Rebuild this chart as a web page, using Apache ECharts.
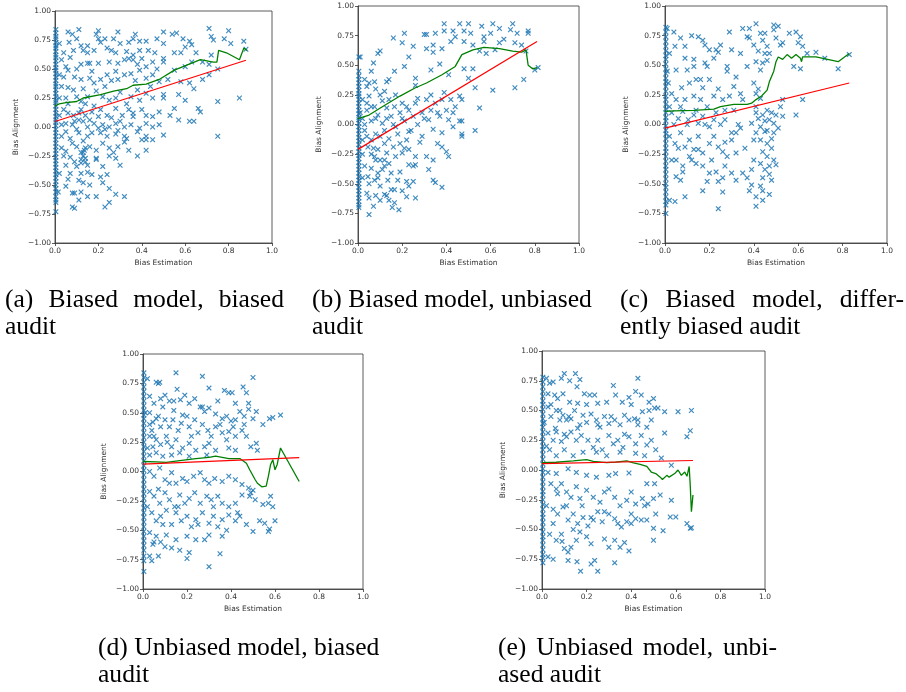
<!DOCTYPE html>
<html>
<head>
<meta charset="utf-8">
<script src="https://cdn.jsdelivr.net/npm/echarts@6/dist/echarts.min.js"></script>
<style>
  html, body { margin: 0; padding: 0; background: #fff; }
  #main { width: 906px; height: 692px; }
</style>
</head>
<body>
<div id="main"></div>
<script>
// ---- data ----
// (a) biased model, biased audit
const aZero = [0.84,0.81,0.78,0.76,0.73,0.7,0.68,0.65,0.62,0.6,0.57,0.54,0.51,0.49,0.46,0.43,0.4,0.37,0.35,0.32,0.29,0.26,0.23,0.21,0.18,0.15,0.12,0.09,0.06,0.04,0.01,-0.02,-0.05,-0.08,-0.11,-0.14,-0.17,-0.2,-0.23,-0.26,-0.29,-0.32,-0.35,-0.38,-0.41,-0.44,-0.47,-0.5,-0.53,-0.56,-0.6,-0.63,-0.65,-0.73];
const aPoints = [
  [0.06,0.82],[0.08,0.80],[0.11,0.84],[0.2,0.83],[0.19,0.80],[0.29,0.82],[0.37,0.80],[0.5,0.82],[0.54,0.80],[0.56,0.81],[0.71,0.85],[0.8,0.83],[0.72,0.78],[0.73,0.75],[0.78,0.76],[0.81,0.72],[0.87,0.74],[0.88,0.67],
  [0.02,0.72],[0.065,0.73],[0.1,0.76],[0.12,0.7],[0.15,0.7],[0.2,0.76],[0.21,0.73],[0.23,0.76],[0.27,0.76],[0.3,0.72],[0.34,0.73],[0.36,0.76],[0.39,0.74],[0.42,0.74],[0.47,0.76],[0.5,0.72],[0.59,0.76],[0.62,0.74],[0.63,0.71],[0.6,0.69],
  [0.04,0.64],[0.085,0.66],[0.13,0.66],[0.15,0.64],[0.18,0.66],[0.24,0.68],[0.26,0.66],[0.28,0.64],[0.33,0.65],[0.36,0.62],[0.39,0.66],[0.43,0.66],[0.46,0.64],[0.55,0.64],[0.58,0.64],[0.65,0.64],[0.72,0.62],[0.68,0.56],
  [0.05,0.52],[0.06,0.49],[0.12,0.54],[0.15,0.55],[0.16,0.55],[0.2,0.55],[0.25,0.56],[0.29,0.55],[0.32,0.58],[0.34,0.59],[0.36,0.58],[0.38,0.54],[0.4,0.59],[0.42,0.52],[0.45,0.56],[0.5,0.59],[0.5,0.56],[0.55,0.49],[0.6,0.52],[0.63,0.56],[0.71,0.45],[0.75,0.5],[0.71,0.54],
  [0.04,0.43],[0.09,0.43],[0.12,0.41],[0.17,0.48],[0.21,0.41],[0.24,0.45],[0.28,0.48],[0.29,0.41],[0.32,0.45],[0.35,0.46],[0.39,0.49],[0.42,0.42],[0.45,0.45],[0.48,0.39],[0.52,0.41],[0.58,0.39],[0.62,0.38],[0.64,0.33],[0.68,0.41],
  [0.03,0.35],[0.06,0.34],[0.085,0.32],[0.02,0.25],[0.05,0.25],[0.1,0.26],[0.12,0.22],[0.15,0.26],[0.19,0.31],[0.22,0.26],[0.25,0.23],[0.28,0.25],[0.33,0.2],[0.35,0.26],[0.38,0.32],[0.39,0.23],[0.42,0.29],[0.45,0.25],[0.5,0.28],[0.5,0.25],[0.57,0.28],[0.6,0.23],[0.75,0.22],[0.85,0.25],
  [0.04,0.15],[0.06,0.12],[0.085,0.1],[0.12,0.15],[0.14,0.1],[0.17,0.13],[0.21,0.15],[0.24,0.1],[0.28,0.16],[0.31,0.1],[0.34,0.15],[0.36,0.09],[0.4,0.15],[0.42,0.1],[0.45,0.09],[0.48,0.13],[0.53,0.1],[0.55,0.16],[0.57,0.06],[0.62,0.05],[0.64,0.05],[0.66,0.16],[0.67,0.13],
  [0.03,0.02],[0.05,0.03],[0.08,0.02],[0.11,0.06],[0.13,0.05],[0.15,0.0],[0.18,0.03],[0.2,-0.01],[0.22,0.02],[0.25,0.0],[0.28,0.03],[0.29,-0.03],[0.32,0.0],[0.35,0.02],[0.39,-0.01],[0.42,0.03],[0.45,0.0],[0.48,0.02],[0.5,-0.07],[0.05,-0.04],[0.11,-0.05],[0.15,-0.08],[0.21,-0.05],[0.24,-0.08],[0.28,-0.06],[0.32,-0.08],[0.38,-0.04],[0.42,-0.08],[0.45,-0.11],[0.75,-0.08],
  [0.03,-0.18],[0.05,-0.21],[0.08,-0.14],[0.1,-0.17],[0.12,-0.22],[0.13,-0.25],[0.14,-0.18],[0.12,-0.31],[0.16,-0.17],[0.19,-0.2],[0.22,-0.14],[0.25,-0.18],[0.27,-0.22],[0.29,-0.17],[0.32,-0.13],[0.34,-0.2],[0.38,-0.25],[0.4,-0.11],[0.42,-0.2],[0.42,-0.11],[0.07,-0.26],[0.19,-0.27],[0.25,-0.25],[0.28,-0.27],[0.13,-0.22],[0.14,-0.27],
  [0.05,-0.33],[0.07,-0.4],[0.12,-0.4],[0.1,-0.34],[0.15,-0.33],[0.17,-0.41],[0.19,-0.28],[0.22,-0.34],[0.21,-0.43],[0.24,-0.41],[0.3,-0.33],[0.15,-0.39],
  [0.015,-0.56],[0.05,-0.51],[0.08,-0.57],[0.09,-0.57],[0.12,-0.56],[0.13,-0.48],[0.15,-0.6],[0.11,-0.63],[0.19,-0.6],[0.22,-0.48],[0.25,-0.53],[0.25,-0.65],[0.23,-0.69],[0.28,-0.58],[0.32,-0.6],[0.08,-0.69],[0.09,-0.7],
  [0.02,0.1],[0.03,-0.08],[0.06,0.2],[0.07,-0.1],[0.09,0.05],[0.1,-0.02],[0.11,0.12],[0.13,-0.12],[0.14,0.2],[0.16,0.06],[0.17,-0.05],[0.18,0.18],[0.2,0.09],[0.23,-0.02],[0.26,0.08],[0.3,0.05],[0.33,-0.1],[0.36,0.12],
  [0.02,0.45],[0.03,0.58],[0.07,0.6],[0.1,0.5],[0.13,0.33],[0.16,0.42],[0.18,0.38],[0.23,0.35],[0.26,0.4],[0.3,0.3],[0.37,0.4],[0.44,0.35],[0.47,0.5],
  [0.02,-0.4],[0.04,-0.25],[0.06,-0.45],[0.09,-0.3],[0.11,-0.46],[0.14,-0.3],[0.16,-0.5],[0.12,-0.28],[0.135,-0.2]
];
const aGreen = [[0,0.18],[0.02,0.2],[0.05,0.21],[0.1,0.22],[0.13,0.25],[0.21,0.28],[0.27,0.31],[0.33,0.33],[0.36,0.36],[0.42,0.37],[0.48,0.41],[0.55,0.49],[0.63,0.55],[0.67,0.58],[0.7,0.57],[0.73,0.56],[0.746,0.56],[0.754,0.66],[0.79,0.64],[0.85,0.58],[0.87,0.68],[0.885,0.66]];
const aRed = [[0,0.047],[0.88,0.575]];

// (b) biased model, unbiased audit
const bZero = [0.57,0.45,0.41,0.38,0.35,0.32,0.29,0.26,0.24,0.21,0.18,0.15,0.12,0.09,0.06,0.04,0.01,-0.02,-0.05,-0.08,-0.11,-0.14,-0.17,-0.2,-0.23,-0.26,-0.29,-0.32,-0.35,-0.38,-0.41,-0.44,-0.47,-0.5,-0.53,-0.56,-0.59,-0.62,-0.65,-0.68,-0.7];
const bPoints = [
  [0.01,0.57],[0.03,0.38],[0.04,0.32],[0.06,0.45],[0.075,0.36],[0.09,0.6],[0.1,0.62],[0.07,0.52],[0.13,0.36],[0.14,0.38],[0.16,0.73],[0.165,0.45],[0.21,0.77],[0.2,0.69],[0.21,0.49],[0.23,0.57],[0.25,0.66],[0.26,0.39],[0.26,0.33],
  [0.3,0.76],[0.31,0.76],[0.31,0.64],[0.34,0.67],[0.35,0.77],[0.34,0.61],[0.33,0.46],[0.37,0.51],[0.39,0.85],[0.39,0.79],[0.38,0.64],[0.41,0.42],[0.42,0.7],[0.43,0.79],[0.44,0.74],[0.46,0.85],[0.48,0.79],[0.48,0.7],[0.48,0.47],
  [0.5,0.85],[0.51,0.77],[0.52,0.67],[0.56,0.83],[0.57,0.74],[0.57,0.7],[0.6,0.77],[0.61,0.85],[0.64,0.81],[0.64,0.69],[0.66,0.72],[0.69,0.8],[0.7,0.85],[0.71,0.69],[0.72,0.77],[0.77,0.79],[0.77,0.77],[0.74,0.67],[0.76,0.62],
  [0.8,0.46],[0.815,0.48],[0.75,0.38],[0.71,0.31],[0.61,0.29],[0.55,0.14],[0.53,0.31],[0.53,-0.05],[0.5,0.39],[0.52,0.47],[0.46,0.24],[0.47,0.21],[0.47,0.03],[0.47,-0.1],[0.43,0.1],[0.44,0.15],[0.58,0.6],[0.62,0.63],[0.55,0.62],
  [0.02,0.21],[0.04,0.12],[0.05,0.24],[0.06,0.03],[0.075,0.15],[0.09,0.08],[0.1,0.25],[0.11,0.01],[0.13,0.14],[0.14,0.21],[0.15,0.07],[0.165,0.15],[0.17,-0.02],[0.19,0.1],[0.2,0.18],[0.21,0.03],[0.23,0.12],[0.23,-0.06],[0.25,0.07],[0.26,0.18],
  [0.27,0.0],[0.29,0.1],[0.29,-0.1],[0.31,0.21],[0.32,0.04],[0.33,0.12],[0.34,-0.04],[0.35,0.18],[0.37,0.07],[0.38,-0.07],[0.38,0.21],[0.4,0.12],[0.41,0.04],[0.42,0.21],[0.46,0.03],[0.47,-0.08],
  [0.36,-0.16],[0.38,-0.19],[0.4,-0.23],[0.41,-0.27],[0.31,-0.27],[0.34,-0.3],[0.32,-0.38],[0.34,-0.47],[0.35,-0.49],[0.38,-0.53],[0.26,-0.27],[0.25,-0.35],[0.26,-0.34],
  [0.02,-0.13],[0.045,-0.19],[0.06,-0.13],[0.075,-0.27],[0.09,-0.21],[0.1,-0.3],[0.12,-0.16],[0.13,-0.24],[0.14,-0.33],[0.16,-0.19],[0.17,-0.27],[0.19,-0.16],[0.2,-0.24],[0.22,-0.13],[0.23,-0.34],[0.23,-0.21],[0.03,-0.05],[0.08,-0.08],[0.12,-0.05],[0.02,0.05],[0.08,0.3],[0.12,0.28],
  [0.03,-0.35],[0.045,-0.44],[0.06,-0.37],[0.075,-0.47],[0.09,-0.41],[0.1,-0.52],[0.12,-0.35],[0.135,-0.47],[0.15,-0.41],[0.165,-0.55],[0.18,-0.47],[0.2,-0.56],[0.22,-0.48],[0.23,-0.52],[0.25,-0.48],[0.26,-0.62],[0.22,-0.61],
  [0.04,-0.58],[0.05,-0.62],[0.07,-0.69],[0.05,-0.76],[0.1,-0.64],[0.12,-0.59],[0.14,-0.64],[0.155,-0.7],[0.185,-0.72],[0.165,-0.66],[0.08,-0.3],[0.06,-0.25],
  [0.01,0.1],[0.02,-0.25],[0.03,0.0],[0.04,-0.1],[0.05,-0.5],[0.06,0.15],[0.07,-0.2],[0.08,0.05],[0.09,-0.45],[0.1,-0.1],[0.11,0.2],[0.12,-0.3],[0.13,0.05],[0.14,-0.12],[0.15,-0.55],[0.16,0.0],[0.17,0.25],[0.18,-0.08],
  [0.19,-0.4],[0.2,0.05],[0.21,-0.2],[0.22,0.15],[0.24,-0.05],[0.27,0.22],[0.28,-0.15],[0.3,0.05],[0.33,0.25],[0.36,0.1],[0.39,0.27],[0.43,-0.02],[0.05,0.35],[0.08,-0.6],[0.11,-0.38],[0.13,-0.6],[0.02,-0.45],[0.04,0.18]
];
const bGreen = [[0,0.05],[0.05,0.08],[0.11,0.15],[0.19,0.24],[0.26,0.31],[0.31,0.35],[0.38,0.42],[0.44,0.49],[0.47,0.59],[0.52,0.63],[0.57,0.65],[0.64,0.64],[0.7,0.62],[0.74,0.61],[0.76,0.63],[0.77,0.5],[0.79,0.47],[0.81,0.48]];
const bRed = [[0,-0.21],[0.81,0.7]];

// (c) biased model, differently biased audit
const cZero = [0.82,0.78,0.74,0.7,0.66,0.62,0.58,0.55,0.51,0.47,0.43,0.39,0.36,0.32,0.28,0.24,0.21,0.17,0.13,0.1,0.06,0.03,-0.01,-0.05,-0.08,-0.12,-0.16,-0.2,-0.23,-0.27,-0.31,-0.35,-0.38,-0.42,-0.46,-0.5,-0.53,-0.57,-0.61,-0.65,-0.68,-0.75];
const cPoints = [
  [0.01,0.81],[0.04,0.78],[0.02,0.6],[0.07,0.73],[0.045,0.66],[0.09,0.66],[0.12,0.75],[0.15,0.74],[0.09,0.56],[0.13,0.49],[0.1,0.46],[0.05,0.46],[0.17,0.71],[0.18,0.67],[0.2,0.63],[0.23,0.63],[0.24,0.61],[0.25,0.67],[0.22,0.56],[0.19,0.49],
  [0.16,0.38],[0.14,0.38],[0.2,0.38],[0.18,0.52],[0.29,0.78],[0.3,0.63],[0.28,0.49],[0.28,0.45],[0.34,0.6],[0.35,0.81],[0.37,0.74],[0.38,0.81],[0.41,0.85],[0.38,0.73],[0.4,0.67],[0.43,0.77],[0.44,0.71],[0.45,0.77],[0.46,0.66],[0.47,0.6],
  [0.49,0.84],[0.49,0.8],[0.51,0.83],[0.5,0.73],[0.52,0.67],[0.53,0.69],[0.56,0.77],[0.59,0.78],[0.6,0.69],[0.61,0.74],[0.62,0.66],[0.64,0.6],[0.68,0.61],[0.61,0.47],[0.58,0.49],[0.78,0.47],[0.83,0.59],[0.72,0.56],
  [0.41,0.53],[0.43,0.46],[0.44,0.52],[0.46,0.54],[0.37,0.49],[0.32,0.4],[0.31,0.32],[0.34,0.26],[0.35,0.21],[0.4,0.35],[0.41,0.26],[0.43,0.22],[0.41,0.15],[0.41,0.1],[0.42,0.05],[0.44,0.08],[0.46,0.12],[0.47,0.04],[0.49,0.01],[0.5,0.08],
  [0.51,-0.03],[0.53,0.21],[0.52,0.15],[0.53,0.07],[0.59,0.08],[0.62,0.21],[0.39,0.01],[0.43,-0.02],[0.45,-0.06],[0.41,-0.07],[0.4,-0.13],[0.43,-0.13],[0.46,-0.16],[0.48,-0.12],[0.49,-0.07],[0.44,-0.23],[0.46,-0.27],[0.43,-0.33],
  [0.47,-0.35],[0.5,-0.34],[0.45,-0.38],[0.47,-0.42],[0.48,-0.47],[0.43,-0.52],[0.44,-0.56],[0.41,-0.61],[0.44,-0.64],[0.47,-0.59],[0.41,-0.69],[0.39,-0.51],[0.38,-0.56],[0.39,-0.38],[0.37,-0.45],[0.35,-0.41],[0.32,-0.47],[0.45,0.03],[0.48,-0.2],
  [0.015,0.35],[0.03,0.26],[0.05,0.21],[0.075,0.31],[0.09,0.21],[0.11,0.35],[0.13,0.24],[0.14,0.12],[0.16,0.21],[0.17,0.31],[0.19,0.15],[0.22,0.24],[0.23,0.1],[0.26,0.21],[0.27,0.12],[0.29,0.24],[0.31,0.12],
  [0.03,0.1],[0.06,0.05],[0.08,0.11],[0.105,0.04],[0.13,0.08],[0.15,0.01],[0.17,0.07],[0.2,-0.02],[0.22,0.04],[0.25,0.0],[0.27,0.04],[0.3,-0.07],[0.32,-0.07],[0.34,-0.03],
  [0.02,-0.1],[0.045,-0.16],[0.07,-0.07],[0.09,-0.19],[0.11,-0.13],[0.13,-0.21],[0.15,-0.21],[0.17,-0.24],[0.2,-0.16],[0.22,-0.1],[0.24,-0.19],[0.26,-0.23],[0.28,-0.27],[0.3,-0.13],[0.32,-0.24],
  [0.05,-0.3],[0.08,-0.35],[0.11,-0.27],[0.14,-0.33],[0.17,-0.35],[0.2,-0.41],[0.19,-0.48],[0.23,-0.4],[0.24,-0.48],[0.26,-0.45],[0.27,-0.35],[0.3,-0.41],[0.07,-0.47],[0.05,-0.44],[0.045,-0.65],[0.02,-0.64],[0.09,-0.61],[0.17,-0.56],[0.26,-0.57],[0.24,-0.71],
  [0.01,0.45],[0.02,0.15],[0.03,-0.3],[0.04,0.0],[0.06,-0.2],[0.07,0.15],[0.08,-0.4],[0.1,0.0],[0.12,-0.3],[0.13,0.55],[0.15,-0.1],[0.18,0.0],[0.21,-0.3],[0.24,0.3],[0.27,-0.15],[0.33,0.0],[0.36,-0.2],[0.4,-0.3],[0.42,0.3],[0.44,-0.45],[0.46,-0.05],[0.48,0.1],[0.49,-0.3],[0.45,0.6],[0.42,0.62]
];
const cGreen = [[0,0.11],[0.04,0.115],[0.13,0.12],[0.22,0.13],[0.25,0.15],[0.31,0.17],[0.37,0.17],[0.39,0.18],[0.41,0.21],[0.435,0.24],[0.46,0.29],[0.47,0.36],[0.49,0.45],[0.5,0.53],[0.51,0.57],[0.53,0.55],[0.55,0.59],[0.57,0.56],[0.59,0.59],[0.61,0.56],[0.615,0.53],[0.62,0.57],[0.68,0.57],[0.78,0.53],[0.83,0.6]];
const cRed = [[0,-0.03],[0.83,0.35]];

// (d) unbiased model, biased audit
const dZero = [0.84,0.8,0.76,0.72,0.68,0.64,0.6,0.56,0.52,0.48,0.45,0.41,0.37,0.33,0.29,0.25,0.21,0.17,0.13,0.09,0.05,0.01,-0.03,-0.07,-0.11,-0.15,-0.19,-0.23,-0.27,-0.31,-0.35,-0.39,-0.43,-0.47,-0.51,-0.55,-0.59,-0.63,-0.67,-0.72,-0.76,-0.85];
const dPoints = [
  [0.02,0.79],[0.06,0.76],[0.07,0.75],[0.076,0.76],[0.15,0.84],[0.155,0.7],[0.27,0.81],[0.3,0.71],[0.5,0.8],[0.455,0.72],[0.39,0.67],[0.405,0.67],[0.37,0.69],[0.47,0.67],[0.34,0.6],[0.42,0.58],[0.48,0.58],
  [0.03,0.64],[0.05,0.58],[0.08,0.62],[0.1,0.65],[0.12,0.6],[0.14,0.52],[0.17,0.61],[0.19,0.65],[0.21,0.58],[0.235,0.62],[0.26,0.55],[0.28,0.51],[0.3,0.54],[0.33,0.49],[0.36,0.45],[0.38,0.47],[0.4,0.43],[0.42,0.44],[0.44,0.51],[0.46,0.47],[0.48,0.53],[0.5,0.45],[0.515,0.51],[0.545,0.4],[0.575,0.45],[0.59,0.46],[0.625,0.48],
  [0.03,0.5],[0.045,0.42],[0.07,0.47],[0.08,0.38],[0.1,0.44],[0.12,0.38],[0.136,0.44],[0.16,0.35],[0.174,0.41],[0.2,0.47],[0.21,0.38],[0.235,0.44],[0.25,0.33],[0.27,0.4],[0.295,0.35],[0.31,0.3],[0.33,0.38],[0.36,0.33],[0.38,0.27],[0.39,0.34],[0.42,0.3],[0.45,0.35],[0.47,0.3],[0.49,0.21],[0.515,0.24],[0.52,0.18],
  [0.03,0.3],[0.045,0.21],[0.06,0.27],[0.08,0.23],[0.106,0.3],[0.13,0.21],[0.15,0.27],[0.18,0.2],[0.21,0.24],[0.24,0.18],[0.28,0.21],[0.3,0.24],[0.33,0.18],[0.39,0.2],[0.42,0.18],[0.03,0.14],[0.06,0.16],[0.09,0.13],[0.13,0.14],[0.167,0.16],[0.21,0.13],[0.29,0.14],
  [0.03,0.0],[0.05,-0.04],[0.076,0.03],[0.1,-0.07],[0.13,-0.01],[0.15,-0.1],[0.18,-0.06],[0.2,-0.085],[0.23,-0.04],[0.26,-0.01],[0.28,-0.07],[0.3,-0.1],[0.326,-0.06],[0.36,-0.085],[0.39,-0.04],[0.42,-0.07],[0.45,-0.11],[0.48,-0.14],[0.5,-0.16],[0.49,-0.18],[0.58,-0.21],
  [0.03,-0.17],[0.05,-0.21],[0.076,-0.27],[0.1,-0.18],[0.12,-0.24],[0.144,-0.3],[0.167,-0.2],[0.19,-0.27],[0.21,-0.23],[0.235,-0.18],[0.26,-0.27],[0.29,-0.21],[0.31,-0.24],[0.34,-0.21],[0.36,-0.27],[0.39,-0.3],[0.42,-0.27],[0.45,-0.2],[0.485,-0.21],[0.51,-0.24],[0.545,-0.28],[0.57,-0.27],[0.59,-0.3],
  [0.04,-0.35],[0.06,-0.42],[0.08,-0.38],[0.106,-0.33],[0.13,-0.45],[0.15,-0.35],[0.174,-0.42],[0.2,-0.38],[0.22,-0.47],[0.24,-0.41],[0.27,-0.35],[0.3,-0.44],[0.32,-0.38],[0.34,-0.47],[0.36,-0.41],[0.39,-0.37],[0.42,-0.42],[0.44,-0.38],[0.47,-0.45],[0.5,-0.51],[0.53,-0.42],[0.553,-0.44],[0.6,-0.42],[0.575,-0.49],[0.57,-0.51],
  [0.03,-0.52],[0.06,-0.55],[0.08,-0.6],[0.106,-0.54],[0.13,-0.65],[0.15,-0.58],[0.167,-0.67],[0.2,-0.74],[0.21,-0.69],[0.24,-0.58],[0.28,-0.58],[0.3,-0.54],[0.35,-0.7],[0.3,-0.81],[0.36,-0.55],[0.03,-0.72],[0.04,-0.76],[0.07,-0.72],[0.1,-0.64],[0.045,-0.62],
  [0.01,0.5],[0.02,0.2],[0.02,-0.3],[0.04,0.35],[0.05,-0.6],[0.06,0.45],[0.07,-0.15],[0.09,0.55],[0.09,-0.45],[0.11,0.25],[0.12,-0.1],[0.14,0.6],[0.16,-0.3],[0.18,0.48],[0.2,-0.55],[0.22,0.3],[0.25,-0.45],[0.27,0.55],[0.32,-0.3],[0.35,0.4],[0.38,-0.5],[0.41,0.38],[0.43,-0.35],[0.46,0.4],[0.03,0.4],[0.05,0.3]
];
const dGreen = [[0,0.085],[0.06,0.082],[0.106,0.077],[0.167,0.093],[0.24,0.11],[0.3,0.12],[0.33,0.13],[0.36,0.12],[0.39,0.11],[0.44,0.11],[0.47,0.07],[0.485,0.015],[0.51,-0.07],[0.52,-0.1],[0.54,-0.13],[0.545,-0.14],[0.56,-0.125],[0.57,-0.04],[0.58,0.06],[0.59,0.1],[0.6,0.015],[0.61,0.06],[0.625,0.2],[0.71,-0.085]];
const dRed = [[0,0.062],[0.71,0.118]];

// (e) unbiased model, unbiased audit
const eZero = [0.78,0.74,0.7,0.66,0.62,0.58,0.55,0.51,0.47,0.43,0.39,0.36,0.32,0.28,0.24,0.2,0.17,0.13,0.09,0.05,0.01,-0.02,-0.06,-0.1,-0.14,-0.18,-0.21,-0.25,-0.29,-0.33,-0.37,-0.4,-0.44,-0.48,-0.52,-0.56,-0.59,-0.63,-0.67,-0.71,-0.74,-0.78];
const ePoints = [
  [0.02,0.77],[0.034,0.73],[0.05,0.74],[0.087,0.77],[0.1,0.81],[0.124,0.75],[0.15,0.81],[0.17,0.76],[0.157,0.7],[0.32,0.71],[0.43,0.77],[0.42,0.66],[0.027,0.64],[0.057,0.63],[0.07,0.6],[0.094,0.64],[0.124,0.57],[0.16,0.56],[0.19,0.64],[0.214,0.63],[0.236,0.63],
  [0.25,0.56],[0.29,0.57],[0.33,0.63],[0.36,0.57],[0.39,0.61],[0.4,0.55],[0.445,0.63],[0.48,0.57],[0.5,0.6],[0.52,0.52],[0.55,0.49],[0.61,0.49],[0.67,0.5],[0.665,0.33],[0.65,0.28],[0.55,0.31],
  [0.027,0.53],[0.04,0.45],[0.064,0.5],[0.08,0.42],[0.094,0.46],[0.11,0.42],[0.13,0.43],[0.146,0.5],[0.17,0.38],[0.184,0.46],[0.2,0.4],[0.22,0.47],[0.244,0.42],[0.26,0.36],[0.28,0.45],[0.3,0.39],[0.326,0.42],[0.35,0.38],[0.37,0.46],[0.39,0.42],[0.415,0.43],[0.43,0.42],[0.45,0.49],[0.47,0.36],[0.49,0.42],[0.505,0.52],
  [0.027,0.31],[0.05,0.25],[0.064,0.32],[0.087,0.24],[0.11,0.28],[0.13,0.32],[0.154,0.25],[0.176,0.29],[0.206,0.25],[0.23,0.19],[0.25,0.25],[0.27,0.17],[0.3,0.29],[0.32,0.22],[0.34,0.25],[0.363,0.19],[0.39,0.28],[0.42,0.22],[0.445,0.29],[0.47,0.21],[0.49,0.25],[0.51,0.17],[0.535,0.1],[0.58,0.04],
  [0.034,0.17],[0.064,0.12],[0.1,0.17],[0.14,0.12],[0.184,0.15],[0.244,0.15],[0.29,0.12],[0.35,0.15],[0.42,0.14],[0.46,0.12],
  [0.027,-0.02],[0.064,-0.03],[0.117,0.01],[0.154,-0.02],[0.2,-0.045],[0.244,-0.06],[0.3,-0.045],[0.33,-0.03],[0.39,-0.025],[0.47,-0.115],[0.505,-0.115],
  [0.04,-0.115],[0.064,-0.16],[0.087,-0.115],[0.11,-0.185],[0.13,-0.23],[0.154,-0.14],[0.17,-0.24],[0.2,-0.17],[0.23,-0.23],[0.26,-0.27],[0.28,-0.185],[0.3,-0.16],[0.326,-0.23],[0.35,-0.3],[0.38,-0.255],[0.4,-0.185],[0.42,-0.285],[0.45,-0.24],[0.475,-0.285],[0.5,-0.24],[0.51,-0.37],[0.53,-0.21],[0.58,-0.255],
  [0.05,-0.33],[0.07,-0.37],[0.094,-0.31],[0.117,-0.42],[0.14,-0.37],[0.16,-0.45],[0.184,-0.4],[0.206,-0.47],[0.23,-0.42],[0.25,-0.35],[0.27,-0.435],[0.3,-0.37],[0.326,-0.41],[0.356,-0.48],[0.38,-0.435],[0.4,-0.37],[0.42,-0.41],[0.445,-0.42],[0.47,-0.42],[0.5,-0.49],[0.543,-0.51],[0.575,-0.395],[0.6,-0.395],[0.65,-0.45],[0.665,-0.49],[0.67,-0.485],
  [0.034,-0.54],[0.064,-0.59],[0.087,-0.54],[0.1,-0.66],[0.117,-0.69],[0.13,-0.65],[0.154,-0.59],[0.17,-0.52],[0.2,-0.56],[0.22,-0.62],[0.28,-0.58],[0.3,-0.65],[0.326,-0.59],[0.35,-0.65],[0.37,-0.61],[0.39,-0.68],[0.5,-0.59],
  [0.027,-0.73],[0.05,-0.75],[0.117,-0.76],[0.157,-0.77],[0.173,-0.85],[0.22,-0.79],[0.236,-0.76],[0.25,-0.85],[0.326,-0.78],
  [0.01,0.4],[0.02,0.2],[0.02,-0.3],[0.04,0.55],[0.05,-0.45],[0.06,0.35],[0.07,-0.2],[0.08,0.5],[0.09,-0.6],[0.1,0.3],[0.11,-0.3],[0.12,0.45],[0.14,-0.5],[0.16,0.35],[0.18,-0.3],[0.2,0.55],[0.22,-0.4],[0.25,0.38],[0.28,-0.35],[0.31,0.45],[0.34,-0.45],[0.37,0.3],[0.4,-0.45],[0.43,0.38],[0.46,-0.3],[0.48,0.5]
];
const eGreen = [[0,0.062],[0.064,0.065],[0.14,0.076],[0.2,0.087],[0.23,0.073],[0.29,0.062],[0.33,0.067],[0.38,0.076],[0.41,0.06],[0.44,0.048],[0.47,0.03],[0.49,-0.017],[0.51,-0.03],[0.53,-0.06],[0.54,-0.08],[0.56,-0.045],[0.57,-0.06],[0.595,-0.03],[0.61,0.0],[0.625,-0.045],[0.64,-0.017],[0.65,-0.053],[0.66,0.03],[0.665,-0.14],[0.67,-0.35],[0.677,-0.21]];
const eRed = [[0,0.053],[0.677,0.08]];

const zeroX = 0.004;   // the pile of points sitting on x = 0

// ---- layout ----
const panels = [
  { grid: { left: 55, top: 11, width: 217, height: 232 }, zero: aZero, pts: aPoints, green: aGreen, red: aRed },
  { grid: { left: 358, top: 6, width: 221, height: 237 }, zero: bZero, pts: bPoints, green: bGreen, red: bRed },
  { grid: { left: 665, top: 6, width: 222, height: 237 }, zero: cZero, pts: cPoints, green: cGreen, red: cRed },
  { grid: { left: 143, top: 354, width: 220, height: 235 }, zero: dZero, pts: dPoints, green: dGreen, red: dRed },
  { grid: { left: 542, top: 351, width: 223, height: 238 }, zero: eZero, pts: ePoints, green: eGreen, red: eRed }
];

const captions = [
  { words: ['(a)', 'Biased', 'model,', 'biased'], x: 5, x1: 284, y: 300 },
  { words: ['audit'], x: 5, y: 327 },
  { words: ['(b)', 'Biased', 'model,', 'unbiased'], x: 312, y: 300 },
  { words: ['audit'], x: 312, y: 327 },
  { words: ['(c)', 'Biased', 'model,', 'differ-'], x: 620, x1: 904, y: 300 },
  { words: ['ently', 'biased', 'audit'], x: 620, y: 327 },
  { words: ['(d)', 'Unbiased', 'model,', 'biased'], x: 98, y: 648 },
  { words: ['audit'], x: 98, y: 675 },
  { words: ['(e)', 'Unbiased', 'model,', 'unbi-'], x: 498, x1: 777, y: 648 },
  { words: ['ased', 'audit'], x: 498, y: 675 }
];

const capFont = '"Liberation Serif", "Times New Roman", serif';
const ctx = document.createElement('canvas').getContext('2d');
function textW(s, size) {
  ctx.font = size + 'px ' + capFont;
  return ctx.measureText(s).width;
}
// size the caption font so that line (b) spans its width in the picture
const capSize = 280 / textW('(b) Biased model, unbiased', 1);

const graphic = [];
captions.forEach(function (c) {
  const space = textW(' ', capSize);
  let gap = space;
  if (c.x1) {
    const wordsW = c.words.reduce(function (s, w) { return s + textW(w, capSize); }, 0);
    gap = (c.x1 - c.x - wordsW) / (c.words.length - 1);
  }
  let x = c.x;
  c.words.forEach(function (w) {
    graphic.push({
      type: 'text', x: x, y: c.y,
      style: { text: w, font: capSize + 'px ' + capFont, fill: '#000', verticalAlign: 'middle', align: 'left' }
    });
    x += textW(w, capSize) + gap;
  });
});

const xSymbol = 'path://M0,1.5L1.5,0L5,3.5L8.5,0L10,1.5L6.5,5L10,8.5L8.5,10L5,6.5L1.5,10L0,8.5L3.5,5Z';
const axisColor = '#333';
const labelStyle = { fontFamily: 'DejaVu Sans', fontSize: 7.5, color: '#333' };

const grids = [], xAxes = [], yAxes = [], series = [];
panels.forEach(function (p, i) {
  grids.push(Object.assign({ show: true, borderColor: axisColor, borderWidth: 0.8, backgroundColor: 'transparent' }, p.grid));
  xAxes.push({
    gridIndex: i, type: 'value', min: 0, max: 1, interval: 0.2,
    name: 'Bias Estimation', nameLocation: 'middle', nameGap: 16,
    nameTextStyle: labelStyle,
    axisLine: { show: true, onZero: false, lineStyle: { color: axisColor, width: 0.8 } },
    axisTick: { show: true, length: 3, lineStyle: { color: axisColor, width: 0.8 } },
    axisLabel: Object.assign({ margin: 4, formatter: function (v) { return v.toFixed(1); } }, labelStyle),
    splitLine: { show: false }
  });
  yAxes.push({
    gridIndex: i, type: 'value', min: -1, max: 1, interval: 0.25,
    name: 'Bias Alignment', nameLocation: 'middle', nameGap: 35, nameRotate: 90,
    nameTextStyle: labelStyle,
    axisLine: { show: true, onZero: false, lineStyle: { color: axisColor, width: 0.8 } },
    axisTick: { show: true, length: 3, lineStyle: { color: axisColor, width: 0.8 } },
    axisLabel: Object.assign({ margin: 4, formatter: function (v) { return (v < 0 ? '\u2212' : '') + Math.abs(v).toFixed(2); } }, labelStyle),
    splitLine: { show: false }
  });
  const pts = p.zero.map(function (y) { return [zeroX, y]; }).concat(p.pts);
  series.push({
    type: 'scatter', xAxisIndex: i, yAxisIndex: i, data: pts,
    symbol: xSymbol, symbolSize: 5.5,
    itemStyle: { color: '#1f77b4', opacity: 0.85 },
    silent: true, z: 2
  });
  series.push({
    type: 'line', xAxisIndex: i, yAxisIndex: i, data: p.green,
    showSymbol: false, lineStyle: { color: '#008000', width: 1.3 }, silent: true, z: 3
  });
  series.push({
    type: 'line', xAxisIndex: i, yAxisIndex: i, data: p.red,
    showSymbol: false, lineStyle: { color: '#ff0000', width: 1.2 }, silent: true, z: 4
  });
});

const chart = echarts.init(document.getElementById('main'), null, { renderer: 'canvas' });
chart.setOption({
  animation: false,
  backgroundColor: '#fff',
  grid: grids,
  xAxis: xAxes,
  yAxis: yAxes,
  series: series,
  graphic: graphic
});
</script>
</body>
</html>
